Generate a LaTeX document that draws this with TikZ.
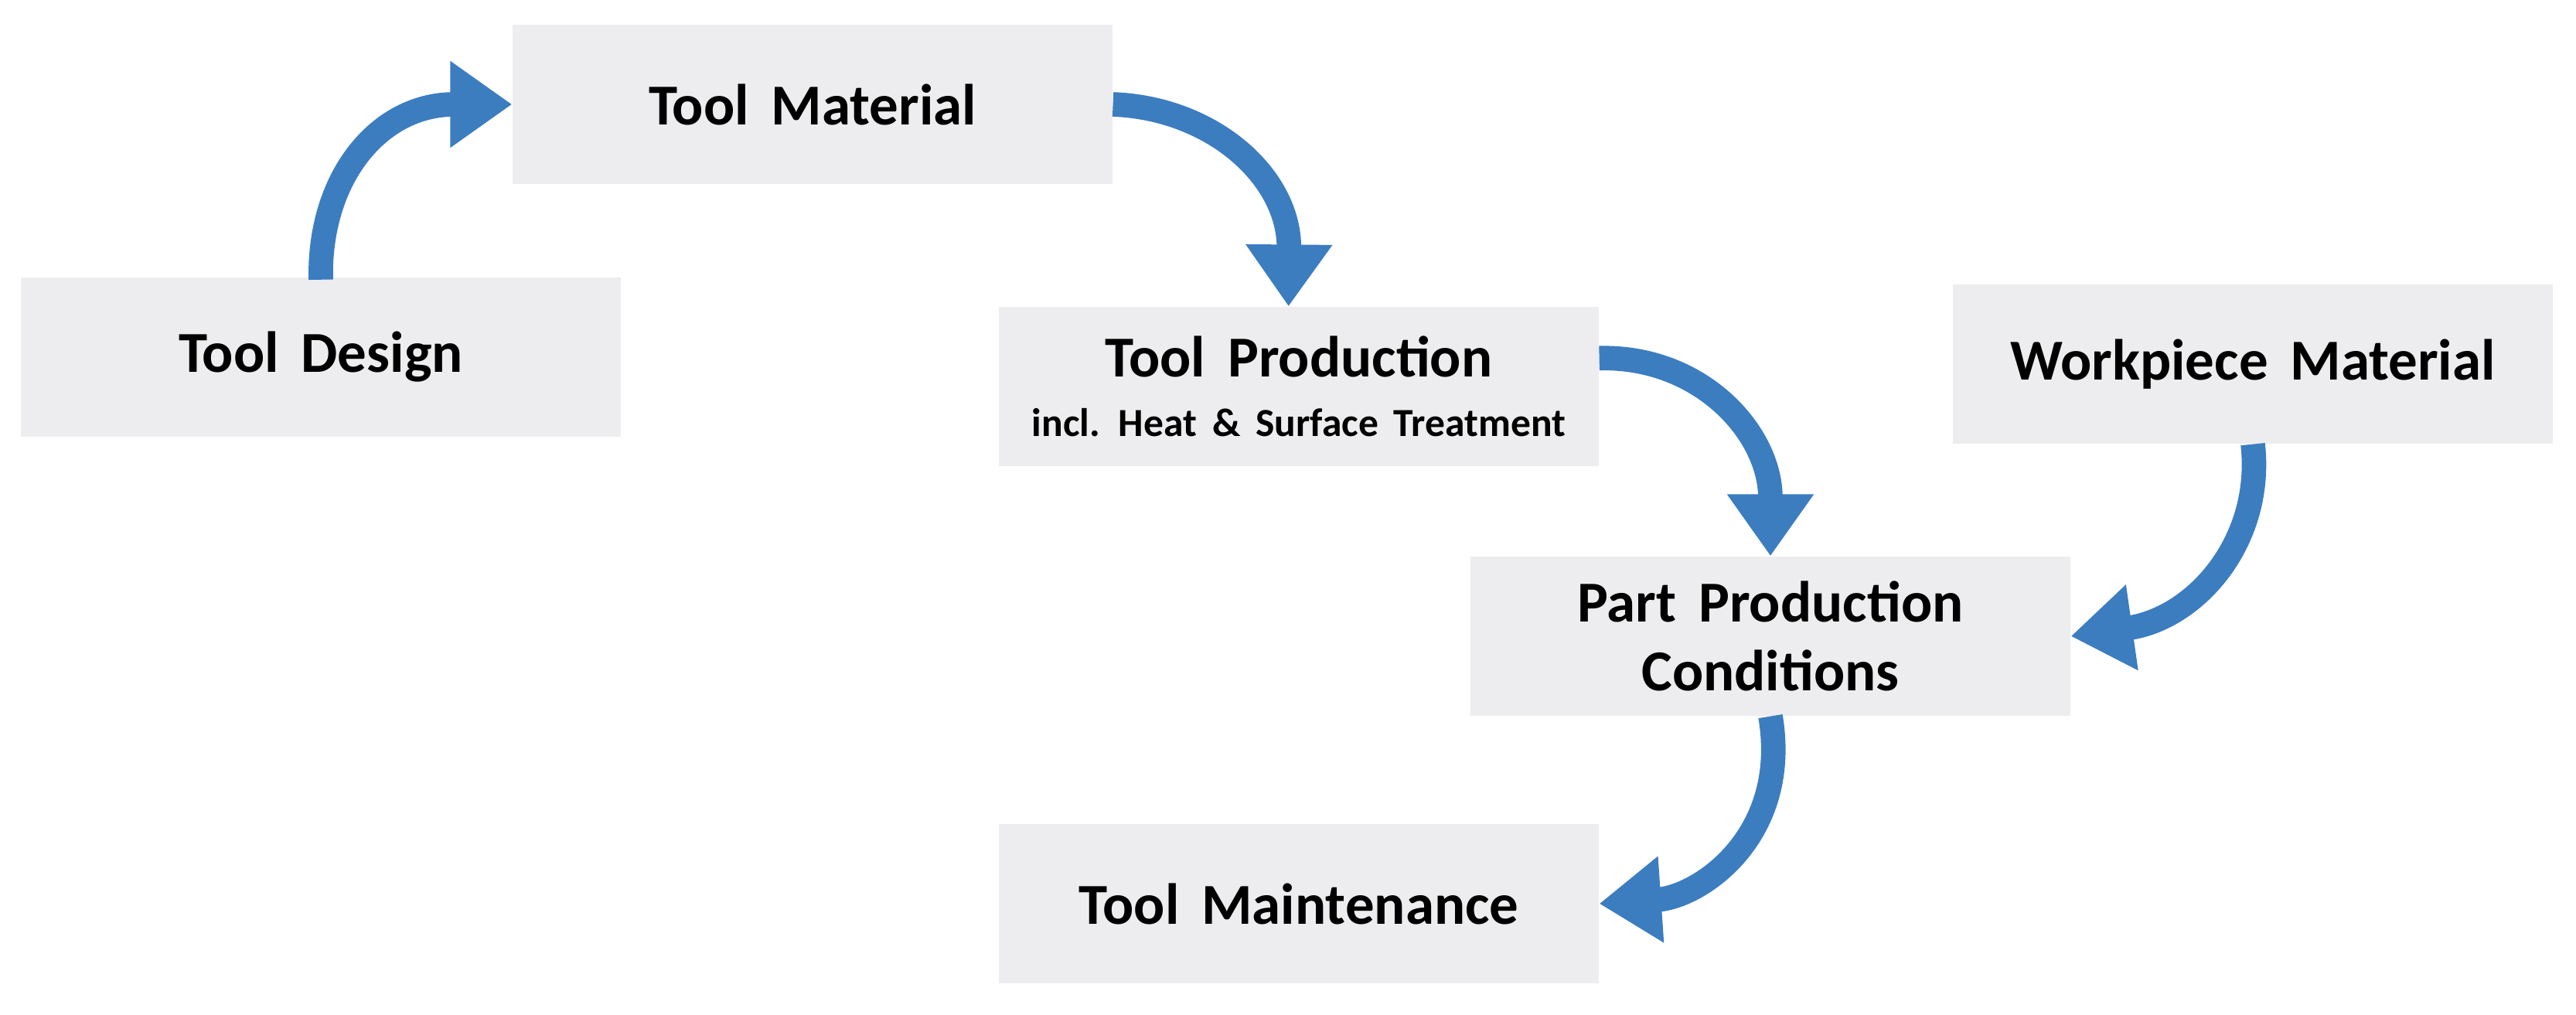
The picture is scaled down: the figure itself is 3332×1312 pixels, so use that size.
\documentclass[tikz,border=0pt]{standalone}
\usepackage{fontspec}
\setmainfont{Carlito}[WordSpace=1.7]
\usetikzlibrary{arrows.meta}
\definecolor{boxgray}{HTML}{EDEDEF}
\definecolor{arrblue}{HTML}{3C7DC0}
\begin{document}
\begin{tikzpicture}[x=0.03cm,y=-0.03cm,
  box/.style={fill=boxgray,draw=none,minimum width=23.3cm,minimum height=6.2cm,align=center,font=\fontsize{64}{76}\selectfont\bfseries},
  flow/.style={draw=arrblue,line width=0.95cm,-{Triangle[width=3.2cm,length=2.4cm]}}]
\useasboundingbox (0,0) rectangle (3332,1312);
\node[box] (material) at (1051,135) {Tool Material};
\node[box] (design) at (415,462) {Tool Design};
\node[box] (production) at (1680,500) {Tool Production\\[-10pt]{\fontsize{44}{52}\selectfont incl. Heat \& Surface Treatment}};
\node[box] (workpiece) at (2914,471) {Workpiece Material};
\node[box] (part) at (2290,823) {Part Production\\Conditions};
\node[box] (maint) at (1680,1169) {Tool Maintenance};
\draw[flow] ([yshift=-0.1cm]design.north) .. controls (412,230) and (490,135) .. (material.west);
\draw[flow] ([yshift=0cm]material.east) .. controls (1570,140) and (1668,230) .. ([xshift=-0.4cm]production.north);
\draw[flow] ([yshift=1.1cm]production.east) .. controls (2200,460) and (2290,560) .. (part.north);
\draw[flow] (workpiece.south) .. controls (2928,700) and (2840,800) .. (part.east);
\draw[flow] (part.south) .. controls (2316,1080) and (2200,1160) .. (maint.east);
\end{tikzpicture}
\end{document}
